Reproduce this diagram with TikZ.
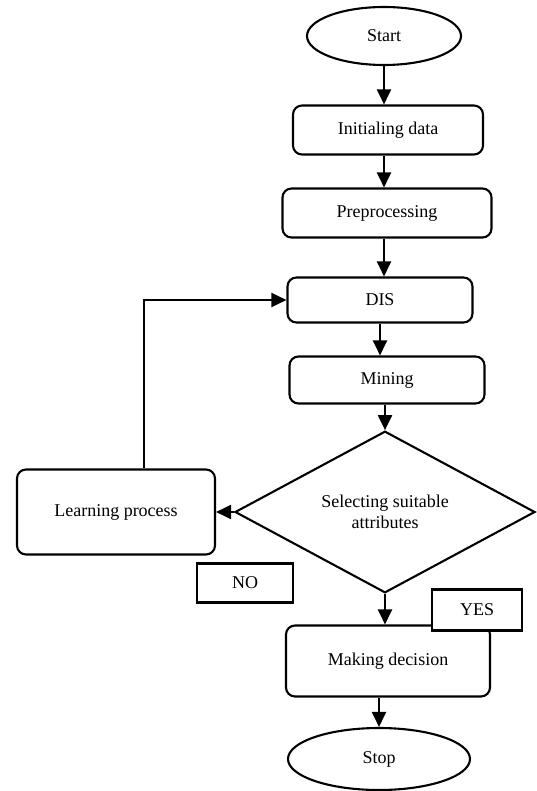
\documentclass[tikz,border=0pt]{standalone}
\usepackage{fontspec}
\setmainfont{Liberation Serif}
\usetikzlibrary{shapes.geometric,arrows.meta}
\begin{document}
\begin{tikzpicture}[x=1pt,y=-1pt,
 every node/.style={font=\fontsize{18}{21.5}\selectfont},
 proc/.style={draw,line width=2.1pt,rounded corners=9pt,inner sep=0pt},
 term/.style={draw,ellipse,line width=2.1pt,inner sep=0pt},
 lbl/.style={draw,line width=2.1pt,fill=white,inner sep=0pt},
 dec/.style={draw,diamond,line width=2.1pt,inner sep=0pt,align=center},
 arr/.style={line width=2.1pt,-{Triangle[length=15pt,width=14pt]}}]
\useasboundingbox (0,0) rectangle (536,791);
\node[term,minimum width=154pt,minimum height=58pt] (start) at (384,36) {Start};
\node[proc,minimum width=190pt,minimum height=49pt] (init) at (388,130) {Initialing data};
\node[proc,minimum width=209pt,minimum height=49pt] (prep) at (387,213) {Preprocessing};
\node[proc,minimum width=185pt,minimum height=45pt] (dis) at (380,300) {DIS};
\node[proc,minimum width=195pt,minimum height=47pt] (mine) at (387,380) {Mining};
\node[dec,minimum width=300pt,minimum height=155pt] (sel) at (385,512) {Selecting suitable\\attributes};
\node[proc,minimum width=198pt,minimum height=85pt] (learn) at (116,512) {Learning process};
\node[lbl,minimum width=96pt,minimum height=39pt] (no) at (245,583) {NO};
\node[proc,minimum width=204pt,minimum height=71pt] (make) at (388,661) {Making decision};
\node[lbl,minimum width=90pt,minimum height=41pt] (yes) at (477,610) {YES};
\node[term,minimum width=182pt,minimum height=62pt] (stop) at (379,759) {Stop};

\draw[arr] (start.south) -- (start.south |- init.north);
\draw[arr] (init.south -| start.south) -- (prep.north -| start.south);
\draw[arr] (prep.south -| start.south) -- (dis.north -| start.south);
\draw[arr] (dis.south) -- (dis.south |- mine.north);
\draw[arr] (sel.north |- mine.south) -- (sel.north);
\draw[arr] (sel.west) -- (learn.east);
\draw[arr] ([xshift=28pt]learn.north) |- (dis.west);
\draw[arr] (sel.south) -- (sel.south |- make.north);
\draw[arr] (stop.north |- make.south) -- (stop.north);
\end{tikzpicture}
\end{document}
